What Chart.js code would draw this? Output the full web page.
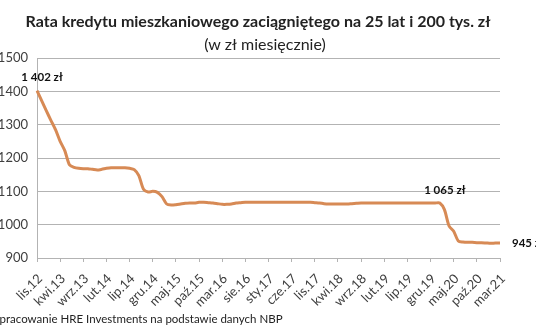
<!DOCTYPE html>
<html>
<head>
<meta charset="utf-8">
<script src="https://cdn.jsdelivr.net/npm/chart.js@4/dist/chart.umd.min.js"></script>
<style>
  html, body { margin: 0; padding: 0; background: #fff; }
  #wrap { width: 536px; height: 332px; position: relative; }
</style>
</head>
<body>
<div id="wrap"><canvas id="rataChart" width="536" height="332"></canvas></div>
<script>
// dane: miesięczna rata (zł), od lis.12 do mar.21
const tickLabels = ['lis.12', 'kwi.13', 'wrz.13', 'lut.14', 'lip.14', 'gru.14', 'maj.15', 'paź.15',
  'mar.16', 'sie.16', 'sty.17', 'cze.17', 'lis.17', 'kwi.18', 'wrz.18', 'lut.19', 'lip.19',
  'gru.19', 'maj.20', 'paź.20', 'mar.21'];

const rata = [
  1402, 1372, 1342, 1313, 1285, 1250, 1222, 1180, 1172, 1169,
  1168, 1168, 1166, 1164, 1166, 1169, 1171, 1171, 1171, 1171,
  1169, 1165, 1147, 1106, 1098, 1100, 1097, 1084, 1062, 1059,
  1060, 1062, 1064, 1065, 1065, 1067, 1067, 1066, 1065, 1063,
  1061, 1061, 1062, 1065, 1066, 1067, 1067, 1067, 1067, 1067,
  1067, 1067, 1067, 1067, 1067, 1067, 1067, 1067, 1067, 1067,
  1066, 1065, 1063, 1062, 1062, 1062, 1062, 1062, 1063, 1064,
  1065, 1065, 1065, 1065, 1065, 1065, 1065, 1065, 1065, 1065,
  1065, 1065, 1065, 1065, 1065, 1065, 1065, 1065, 1045, 996,
  980, 951, 948, 947, 947, 946, 946, 945, 944, 945, 945
];

// podpisy wybranych punktów
const opisy = [
  { idx: 0, text: '1 402 zł', pos: 'top' },
  { idx: 87, text: '1 065 zł', pos: 'top' },
  { idx: 100, text: '945 zł', pos: 'right' }
];

const miesiace = ['sty', 'lut', 'mar', 'kwi', 'maj', 'cze', 'lip', 'sie', 'wrz', 'paź', 'lis', 'gru'];
const labels = rata.map((_, i) => {
  const m = (10 + i) % 12;
  const r = 12 + Math.floor((10 + i) / 12);
  return miesiace[m] + '.' + r;
});

const FONT = 'Lato, "Open Sans", sans-serif';
const GRID = '#b3b3b3';
const TXT = '#404040';

// tytuł, podtytuł, źródło i etykiety danych
const napisy = {
  id: 'napisy',
  afterDraw(chart) {
    const ctx = chart.ctx;
    ctx.save();
    ctx.fillStyle = '#222';
    ctx.textAlign = 'center';
    ctx.textBaseline = 'alphabetic';
    ctx.font = 'bold 16px ' + FONT;
    ctx.fillText('Rata kredytu mieszkaniowego zaciągniętego na 25 lat i 200 tys. zł', 258, 27);
    ctx.font = '16px ' + FONT;
    ctx.fillText('(w zł miesięcznie)', 265, 50);

    ctx.textAlign = 'left';
    ctx.font = '11.5px ' + FONT;
    ctx.fillStyle = '#222';
    ctx.fillText('opracowanie HRE Investments na podstawie danych NBP', -7, 323);

    const meta = chart.getDatasetMeta(0);
    ctx.font = 'bold 11.5px ' + FONT;
    ctx.fillStyle = '#111';
    ctx.textBaseline = 'middle';
    opisy.forEach(o => {
      const p = meta.data[o.idx];
      if (o.pos === 'top') {
        ctx.textAlign = 'center';
        ctx.fillText(o.text, p.x + 5, p.y - 13);
      } else {
        ctx.textAlign = 'left';
        ctx.fillText(o.text, p.x + 12, p.y);
      }
    });
    ctx.restore();
  }
};

new Chart(document.getElementById('rataChart'), {
  type: 'line',
  data: {
    labels: labels,
    datasets: [{
      data: rata,
      borderColor: '#d78a55',
      borderWidth: 3,
      pointRadius: 0,
      tension: 0.25,
      fill: false
    }]
  },
  options: {
    responsive: false,
    animation: false,
    layout: { padding: { top: 58, right: 36, bottom: 0, left: 0 } },
    plugins: {
      legend: { display: false },
      tooltip: { enabled: false }
    },
    scales: {
      x: {
        offset: false,
        afterFit: s => { s.height = 74; },
        grid: {
          drawOnChartArea: false,
          drawTicks: true,
          tickLength: 4,
          tickColor: c => (c.index % 5 === 0 ? GRID : 'rgba(0,0,0,0)')
        },
        border: { color: GRID },
        ticks: {
          autoSkip: false,
          maxRotation: 45,
          minRotation: 45,
          padding: 9,
          labelOffset: 3,
          color: TXT,
          font: { family: FONT, size: 13 },
          callback: (v, i) => (i % 5 === 0 ? tickLabels[i / 5] : '')
        }
      },
      y: {
        min: 900,
        max: 1500,
        afterFit: s => { s.width = 37; },
        grid: { color: GRID, drawTicks: false },
        border: { color: GRID },
        ticks: {
          stepSize: 100,
          padding: 9,
          color: TXT,
          font: { family: FONT, size: 13 },
          callback: v => String(v)
        }
      }
    }
  },
  plugins: [napisy]
});
</script>
</body>
</html>
